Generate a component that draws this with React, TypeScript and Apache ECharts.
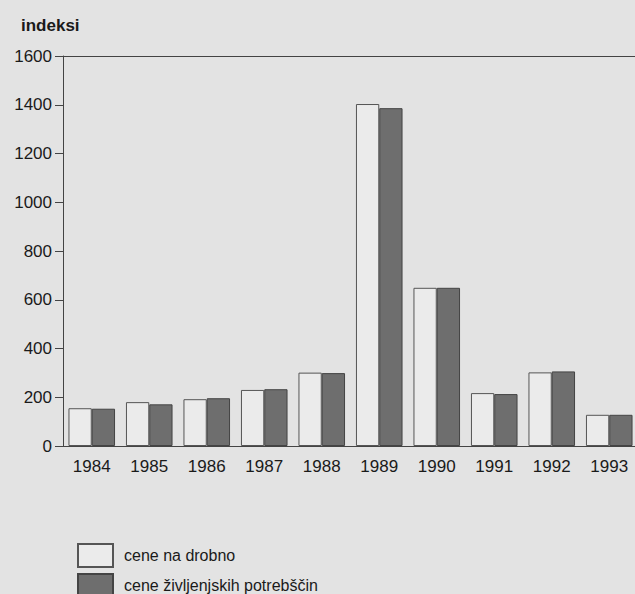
import React, { useEffect, useRef } from "react";
import * as echarts from "echarts";

const years = ["1984", "1985", "1986", "1987", "1988", "1989", "1990", "1991", "1992", "1993"];
const retailPrices = [155, 180, 192, 230, 301, 1403, 649, 217, 302, 128];
const livingCosts = [153, 171, 196, 233, 299, 1386, 649, 213, 306, 128];
const seriesNames = ["cene na drobno", "cene življenjskih potrebščin"];

export default function App() {
  const ref = useRef<HTMLDivElement>(null);
  useEffect(() => {
    if (!ref.current) return;
    const chart = echarts.init(ref.current, null, { renderer: "svg" });
    const font = "Liberation Sans, Arial, sans-serif";
    const legendCommon = {
      orient: "vertical",
      left: 77,
      itemWidth: 35,
      itemHeight: 23,
      icon: "rect",
      padding: 0,
      textStyle: { fontFamily: font, fontSize: 16, color: "#1a1a1a", padding: [0, 0, 0, 6] },
    };
    chart.setOption({
      animation: false,
      backgroundColor: "#e3e3e3",
      title: {
        text: "indeksi",
        left: 16,
        top: 12,
        textStyle: { fontFamily: font, fontSize: 17, fontWeight: "bold", color: "#1a1a1a" },
      },
      legend: [
        { ...legendCommon, top: 543, data: [seriesNames[0]] },
        { ...legendCommon, top: 573, itemHeight: 22, data: [seriesNames[1]] },
      ],
      grid: { left: 63, right: 2, top: 56, bottom: 148 },
      xAxis: [
        {
          type: "category",
          data: years,
          axisLine: { lineStyle: { color: "#444", width: 1 } },
          axisTick: { show: false },
          axisLabel: { fontFamily: font, fontSize: 17, color: "#1a1a1a", margin: 12 },
        },
        {
          type: "category",
          position: "top",
          data: years,
          axisLine: { lineStyle: { color: "#444", width: 1 } },
          axisTick: { show: false },
          axisLabel: { show: false },
        },
      ],
      yAxis: {
        type: "value",
        min: 0,
        max: 1600,
        interval: 200,
        axisLine: { show: true, lineStyle: { color: "#444", width: 1 } },
        axisTick: { show: true, length: 8, lineStyle: { color: "#444" } },
        splitLine: { show: false },
        axisLabel: {
          fontFamily: font,
          fontSize: 17,
          color: "#1a1a1a",
          margin: 11,
          formatter: (v: number) => String(v),
        },
      },
      series: [
        {
          name: seriesNames[0],
          type: "bar",
          data: retailPrices,
          barGap: "0%",
          barCategoryGap: "19%",
          itemStyle: { color: "#ebebeb", borderColor: "#555", borderWidth: 1 },
        },
        {
          name: seriesNames[1],
          type: "bar",
          data: livingCosts,
          itemStyle: { color: "#6e6e6e", borderColor: "#444", borderWidth: 1 },
        },
      ],
    });
    return () => chart.dispose();
  }, []);
  return (
    <div style={{ position: "fixed", left: 0, top: 0, width: 635, height: 594, overflow: "hidden" }}>
      <div ref={ref} style={{ width: 640, height: 594 }} />
    </div>
  );
}
